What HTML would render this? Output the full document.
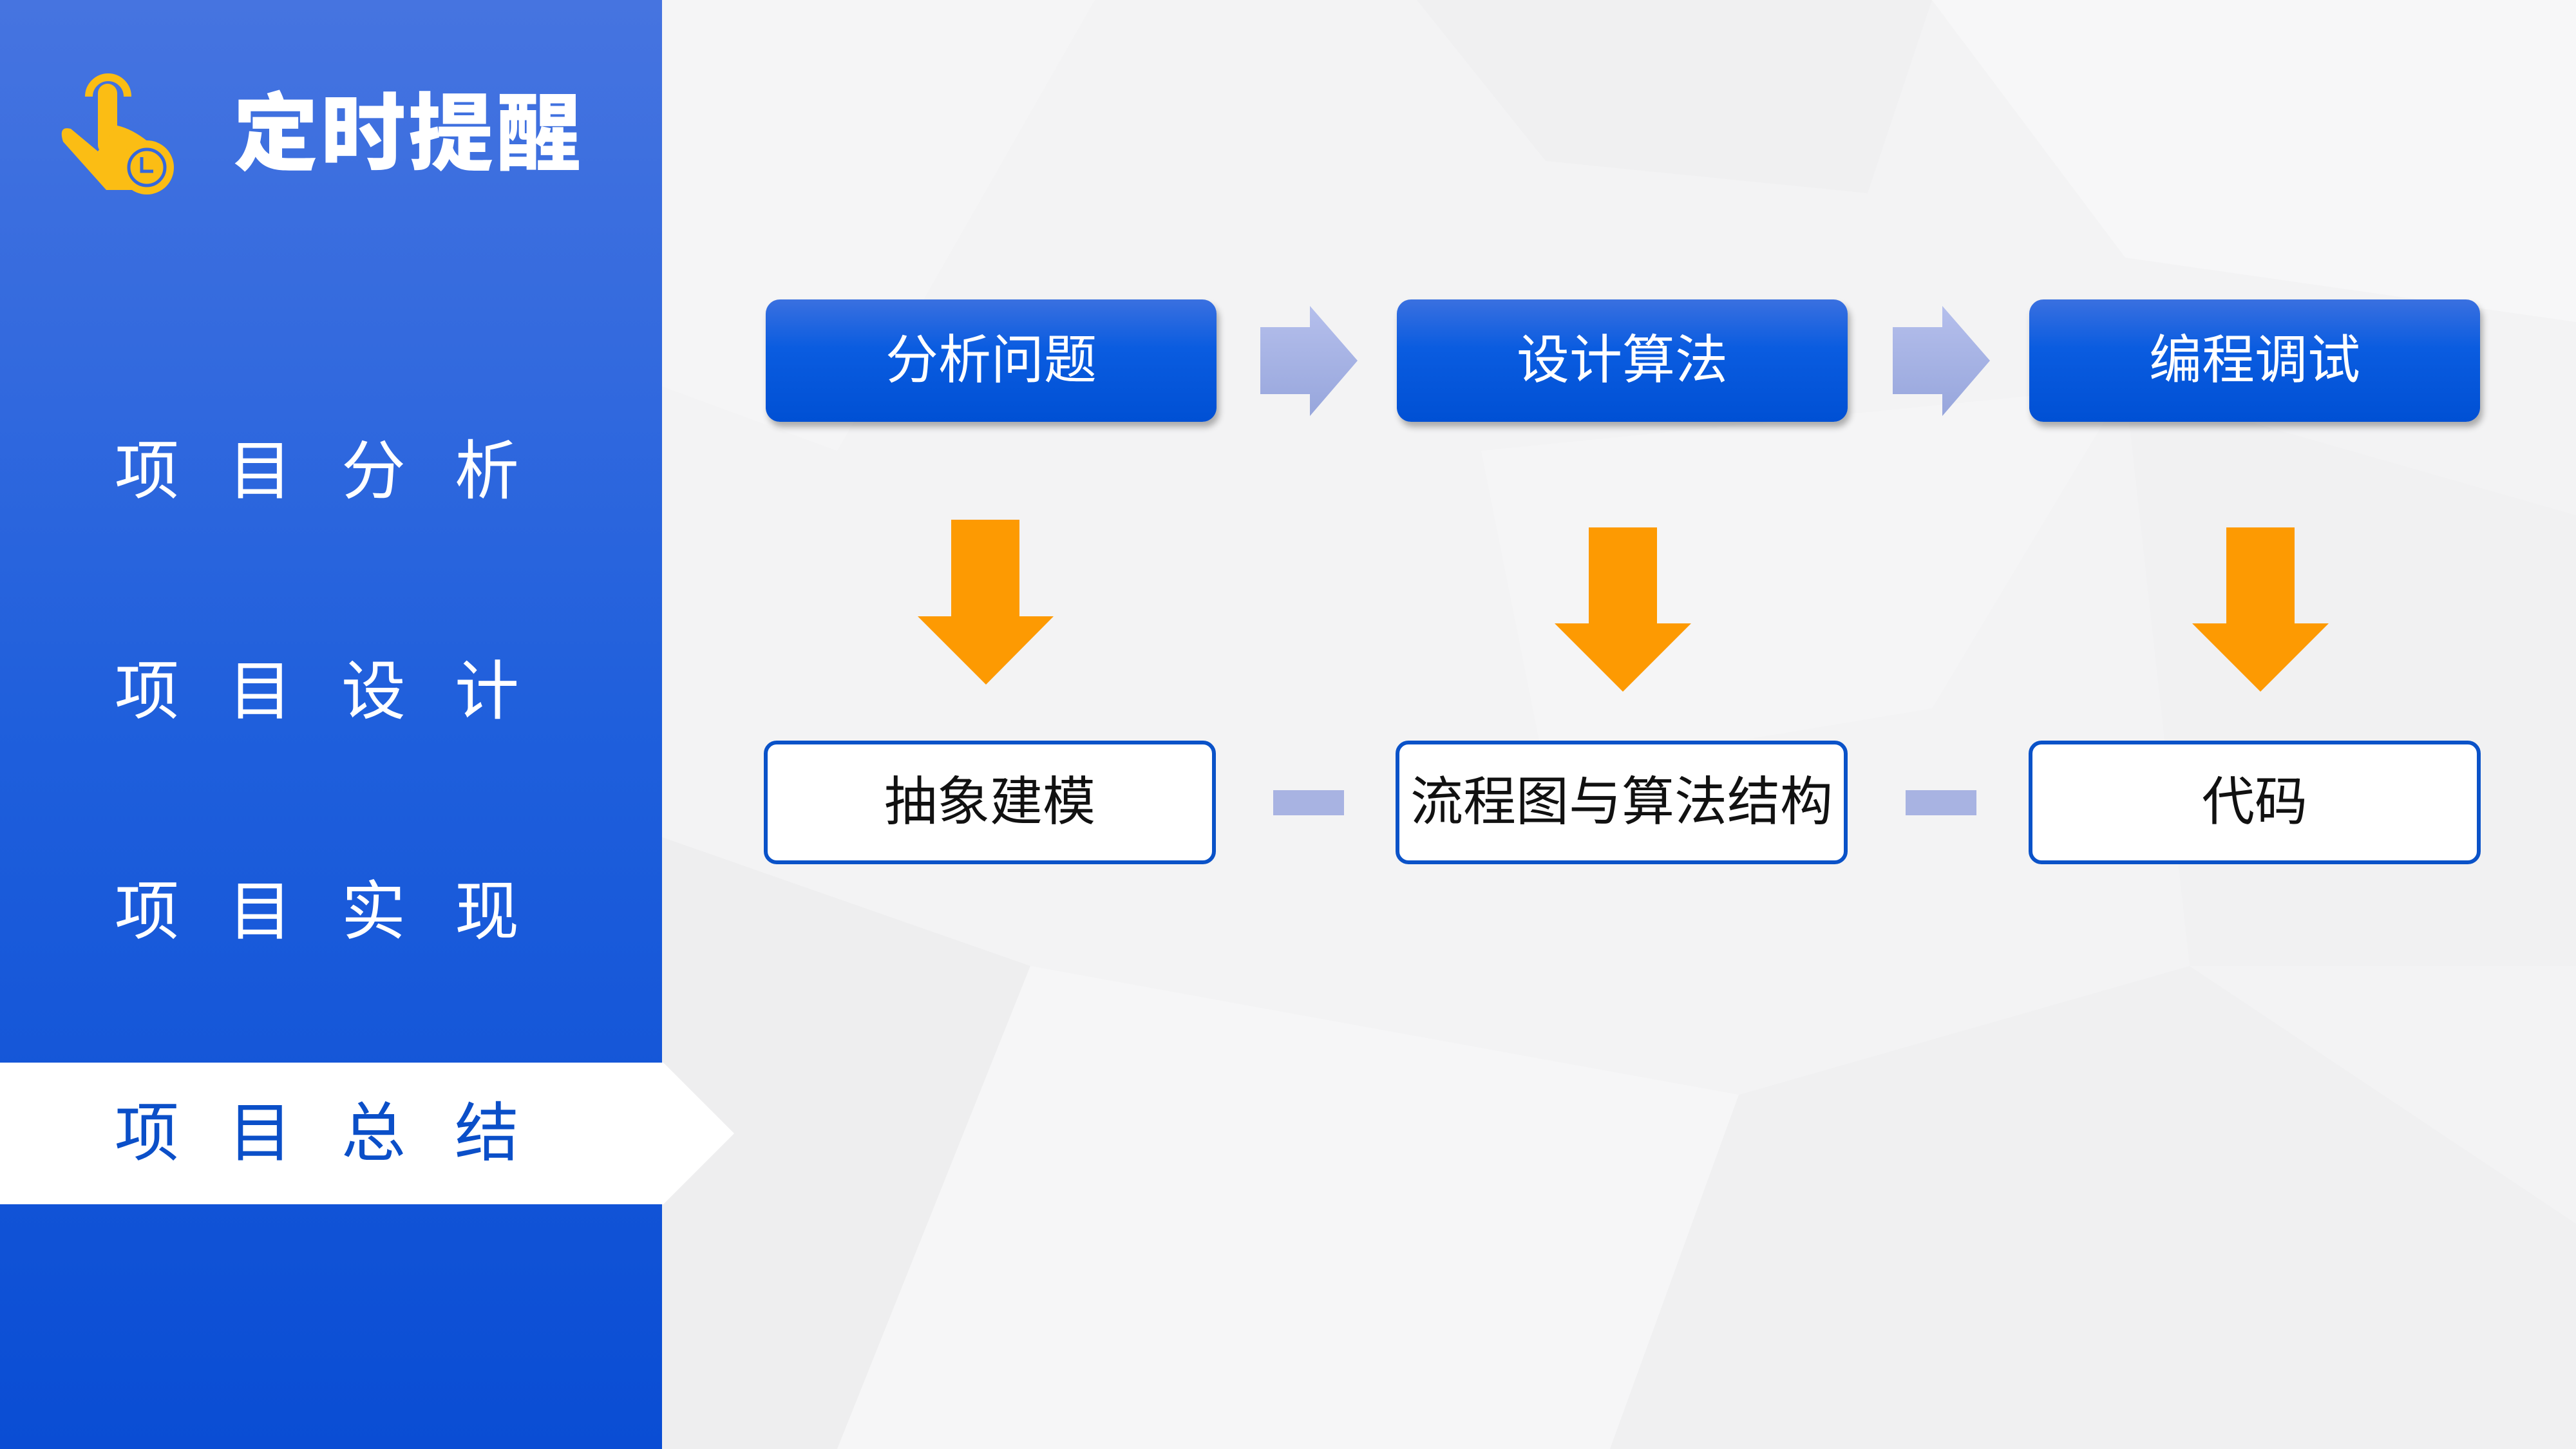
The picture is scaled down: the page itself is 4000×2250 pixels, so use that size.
<!DOCTYPE html>
<html><head><meta charset="utf-8"><style>
*{margin:0;padding:0;box-sizing:border-box}
body{width:4000px;height:2250px;position:relative;overflow:hidden;background:#f3f3f4;font-family:"Liberation Sans","Noto Sans CJK SC",sans-serif}
.side{position:absolute;left:0;top:0;width:1028px;height:2250px;background:linear-gradient(180deg,#4674e0 0%,#1f5fdc 50%,#0a4dd4 100%)}
.title{position:absolute;left:362px;top:134px;font-size:132px;font-weight:900;color:#fff;letter-spacing:4px;line-height:150px}
.item{position:absolute;left:178px;font-size:100px;color:#fff;letter-spacing:76px;line-height:120px}
.band{position:absolute;left:0;top:1650px;width:1140px;height:220px;background:#fff;clip-path:polygon(0 0,1030px 0,1140px 110px,1030px 220px,0 220px)}
.tb{position:absolute;top:465px;width:700px;height:190px;border-radius:22px;background:linear-gradient(180deg,#3a70e0 0%,#0a5ce0 40%,#0050d4 100%);box-shadow:4px 8px 10px rgba(0,0,0,.3);color:#fff;font-size:82px;text-align:center;line-height:190px}
.bb{position:absolute;top:1150px;width:702px;height:192px;border-radius:20px;border:6px solid #0a52c8;background:#fff;color:#111;font-size:82px;text-align:center;line-height:180px}
.dash{position:absolute;top:1227px;width:110px;height:39px;background:#a8b3e2}
</style></head><body>
<svg style="position:absolute;left:0;top:0" width="4000" height="2250">
<polygon points="1028,0 1700,0 1300,700 1028,600" fill="#f5f5f6"/>
<polygon points="2200,0 3000,0 2900,300 2400,250" fill="#f0f0f1"/>
<polygon points="3000,0 4000,0 4000,500 3300,400" fill="#f7f7f8"/>
<polygon points="1028,1300 1600,1500 1300,2250 1028,2250" fill="#eeeeef"/>
<polygon points="1600,1500 2700,1700 2500,2250 1300,2250" fill="#f6f6f7"/>
<polygon points="2700,1700 3400,1500 4000,1900 4000,2250 2500,2250" fill="#f0f0f1"/>
<polygon points="2300,700 3300,600 3000,1100 2400,1200" fill="#f5f5f6"/>
<polygon points="3300,600 4000,800 4000,1500 3400,1500" fill="#f1f1f2"/>
<defs><linearGradient id="ga" x1="0" y1="0" x2="0" y2="1"><stop offset="0" stop-color="#b5bfec"/><stop offset="1" stop-color="#97a6dc"/></linearGradient></defs>
<polygon points="1957,508 2034,508 2034,475 2108,560 2034,646 2034,612 1957,612" fill="url(#ga)"/>
<polygon points="2939,508 3016,508 3016,475 3090,560 3016,646 3016,612 2939,612" fill="url(#ga)"/>
<g fill="#fd9a02">
<polygon points="1477,807 1583,807 1583,957 1636,957 1531,1063 1425,957 1477,957"/>
<polygon points="2467,819 2573,819 2573,968 2626,968 2520,1074 2414,968 2467,968"/>
<polygon points="3457,819 3563,819 3563,968 3616,968 3510,1074 3404,968 3457,968"/>
</g>
</svg>
<div class="side"></div>
<svg style="position:absolute;left:80px;top:90px" width="200" height="220">
<g fill="#fbbd14">
<path d="M58,60 a30,30 0 0 1 60,0" stroke="#fbbd14" stroke-width="12" fill="none"/>
<rect x="72" y="40" width="30" height="110" rx="15"/>
<path d="M72,145 L30,110 Q10,105 18,130 L85,205 L140,205 L150,130 Q125,110 102,105 Z"/>
<circle cx="148" cy="170" r="42"/>
</g>
<circle cx="148" cy="170" r="28" fill="none" stroke="#3568dd" stroke-width="5"/>
<path d="M140,154 V176 H158" fill="none" stroke="#3568dd" stroke-width="5"/>
</svg>
<div class="title">定时提醒</div>
<div class="item" style="top:672px">项目分析</div>
<div class="item" style="top:1014px">项目设计</div>
<div class="item" style="top:1356px">项目实现</div>
<div class="band"></div>
<div class="item" style="top:1700px;color:#0b4fc8">项目总结</div>
<div class="tb" style="left:1189px">分析问题</div>
<div class="tb" style="left:2169px">设计算法</div>
<div class="tb" style="left:3151px">编程调试</div>
<div class="bb" style="left:1186px">抽象建模</div>
<div class="bb" style="left:2167px">流程图与算法结构</div>
<div class="bb" style="left:3150px">代码</div>
<div class="dash" style="left:1977px"></div>
<div class="dash" style="left:2959px"></div>
</body></html>
